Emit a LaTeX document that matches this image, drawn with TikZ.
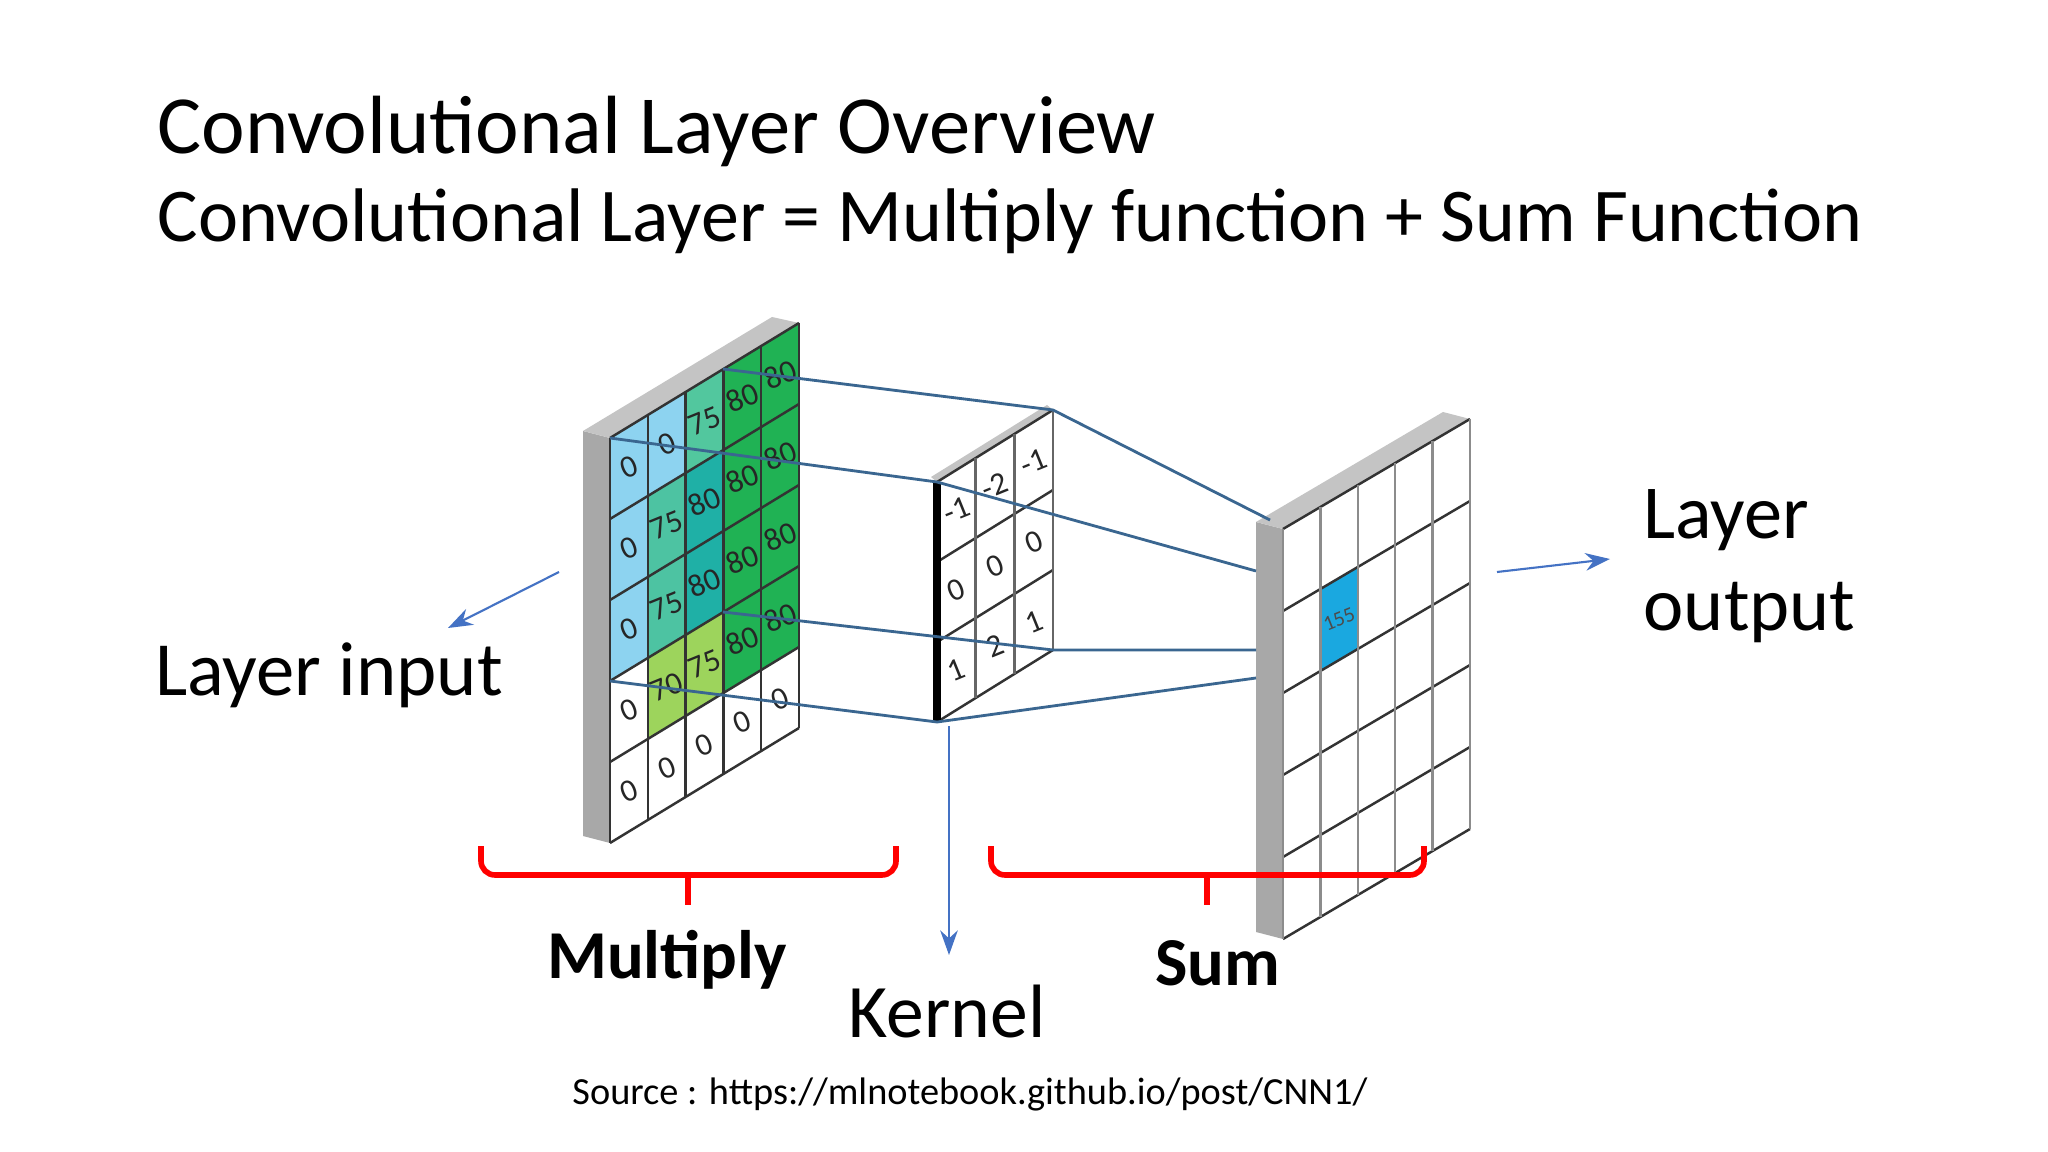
\documentclass[tikz,border=0pt]{standalone}
\usepackage{fontspec}
\setmainfont{Carlito}
\usetikzlibrary{arrows.meta}
\definecolor{LB}{HTML}{8DD3F0}
\definecolor{TA}{HTML}{52C79E}
\definecolor{TB}{HTML}{4DC3A2}
\definecolor{TC}{HTML}{1FB0A6}
\definecolor{GG}{HTML}{20B254}
\definecolor{LG}{HTML}{9DD45C}
\definecolor{OB}{HTML}{1AA8E0}
\definecolor{conn}{HTML}{3A6690}
\definecolor{arr}{HTML}{4472C4}
\definecolor{side}{HTML}{A8A8A8}
\definecolor{topc}{HTML}{C4C4C4}
\tikzset{
  gridline/.style={black!80,line width=0.7pt},
  conline/.style={conn,line width=0.8pt},
  bluearrow/.style={arr,line width=0.6pt,-{Stealth[length=7pt,width=5pt]}},
  brace/.style={red,line width=1.6pt,rounded corners=4pt},
  num/.style={font=\fontsize{9}{9}\selectfont,text=black!85,rotate=22,inner sep=0pt},
  lab/.style={font=\fontsize{21.8}{26}\selectfont,inner sep=0pt},
}
\begin{document}
\begin{tikzpicture}[x=0.01cm,y=-0.01cm]
\useasboundingbox[fill=white] (0,0) rectangle (2048,1152);
% ---- title
\node[anchor=base west,inner sep=0pt,font=\fontsize{23.5}{28}\selectfont] (title) at (157,154) {Convolutional Layer Overview};
\node[anchor=base west,inner sep=0pt,font=\fontsize{21.6}{26}\selectfont] (sub) at (157,242) {Convolutional Layer = Multiply function + Sum Function};
% ---- input panel
\fill[side] (583,431) -- (610,438) -- (610,843) -- (583,836) -- cycle;
\fill[topc] (583,431) -- (772,317) -- (799,323) -- (610,438) -- cycle;
\foreach \c/\r/\col/\t in {0/0/LB/0,1/0/LB/0,2/0/TA/75,3/0/GG/80,4/0/GG/80,
  0/1/LB/0,1/1/TB/75,2/1/TC/80,3/1/GG/80,4/1/GG/80,
  0/2/LB/0,1/2/TB/75,2/2/TC/80,3/2/GG/80,4/2/GG/80,
  0/3/white/0,1/3/LG/70,2/3/LG/75,3/3/GG/80,4/3/GG/80,
  0/4/white/0,1/4/white/0,2/4/white/0,3/4/white/0,4/4/white/0}{
  \fill[\col] (610+\c*37.8,438-\c*23+\r*81) -- ++(37.8,-23) -- ++(0,81) -- ++(-37.8,23) -- cycle;
  \node[num] at (610+\c*37.8+18.9,438-\c*23-11.5+\r*81+40.5) {\t};
}
\foreach \r in {0,...,5}{\draw[gridline] (610,438+\r*81) -- (799,323+\r*81);}
\foreach \c in {0,...,5}{\draw[gridline] (610+\c*37.8,438-\c*23) -- (610+\c*37.8,843-\c*23);}
% ---- kernel
\fill[topc] (931,477) -- (1047,405) -- (1053,410) -- (937,482) -- cycle;
\foreach \c/\r/\t in {0/0/-1,1/0/-2,2/0/-1,0/1/0,1/1/0,2/1/0,0/2/1,1/2/2,2/2/1}{
  \node[num] at (937+\c*38.7+19.3,482-\c*24-12+\r*80+40) {\t};
}
\foreach \r in {0,...,3}{\draw[gridline] (937,482+\r*80) -- (1053,410+\r*80);}
\foreach \c in {1,2,3}{\draw[gridline,black!60] (937+\c*38.7,482-\c*24) -- (937+\c*38.7,722-\c*24);}
\draw[black,line width=2pt] (937,482) -- (937,722);
% ---- output panel
\fill[side] (1256,522) -- (1283,529) -- (1283,939) -- (1256,932) -- cycle;
\fill[topc] (1256,522) -- (1443,412) -- (1470,419) -- (1283,529) -- cycle;
\fill[OB] (1283+37.4,529-22+82) -- ++(37.4,-22) -- ++(0,82) -- ++(-37.4,22) -- cycle;
\node[num,font=\fontsize{6}{6}\selectfont,text=black!70] (v155) at (1283+56.1,529-33+123) {155};
\foreach \r in {0,...,5}{\draw[gridline] (1283,529+\r*82) -- (1470,419+\r*82);}
\foreach \c in {0,...,5}{\draw[gridline,black!45] (1283+\c*37.4,529-\c*22) -- (1283+\c*37.4,939-\c*22);}
% ---- connectors
\coordinate (P00) at (610,438); \coordinate (P30) at (723,369);
\coordinate (P03) at (610,681); \coordinate (P33) at (723,612);
\coordinate (KTL) at (937,482); \coordinate (KTR) at (1053,410);
\coordinate (KBL) at (937,722); \coordinate (KBR) at (1053,650);
\coordinate (OA) at (1270,520); \coordinate (OB) at (1256,571);
\coordinate (OC) at (1256,650); \coordinate (OD) at (1256,678);
\draw[conline] (P30) -- (KTR) -- (OA);
\draw[conline] (P00) -- (KTL) -- (OB);
\draw[conline] (P33) -- (KBR) -- (OC);
\draw[conline] (P03) -- (KBL) -- (OD);
% ---- labels
\node[lab] (lin) at (329,675) {Layer input};
\node[lab,align=left,anchor=west,font=\fontsize{21.7}{26}\selectfont] (lout) at (1643,566) {Layer\\output};
\node[lab,font=\fontsize{19.5}{24}\selectfont\bfseries] (mul) at (667,960) {Multiply};
\node[lab,font=\fontsize{19.5}{24}\selectfont\bfseries] (sum) at (1218,963) {Sum};
\node[lab,font=\fontsize{21.5}{26}\selectfont] (ker) at (947,1012) {Kernel};
\node[inner sep=0pt,font=\fontsize{10.9}{12}\selectfont] (src) at (970,1094) {Source : https://mlnotebook.github.io/post/CNN1/};
% ---- arrows
\coordinate (a1s) at (559,572); \coordinate (a1e) at (448,628);
\coordinate (a2s) at (1497,572); \coordinate (a2e) at (1610,559);
\coordinate (a3s) at (949,726); \coordinate (a3e) at (949,955);
\draw[bluearrow] (a1s) -- (a1e);
\draw[bluearrow] (a2s) -- (a2e);
\draw[bluearrow] (a3s) -- (a3e);
% ---- braces
\draw[brace] (481,846) -- (481,875) -- (896,875) -- (896,846);
\draw[brace] (688,875) -- (688,905);
\draw[brace] (991,846) -- (991,875) -- (1424,875) -- (1424,846);
\draw[brace] (1207,875) -- (1207,905);
\end{tikzpicture}
\end{document}
